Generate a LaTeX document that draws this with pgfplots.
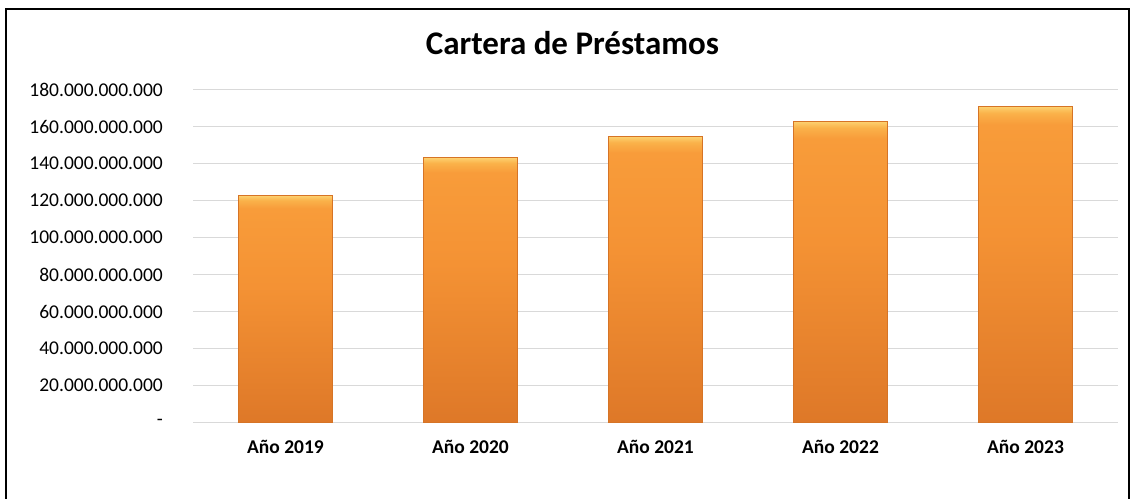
\documentclass[border=0pt]{standalone}
\usepackage{pgfplots}
\pgfplotsset{compat=1.18}
\usepackage{fontspec}
\setmainfont{Carlito}
\definecolor{obot}{RGB}{222,120,40}
\definecolor{omid}{RGB}{244,146,52}
\definecolor{otop}{RGB}{248,156,58}
\definecolor{ohl}{RGB}{253,208,110}
\definecolor{ohl2}{RGB}{250,178,74}
\definecolor{gridc}{RGB}{217,217,217}
\pgfdeclareverticalshading{barshade}{100bp}{color(0bp)=(obot); color(25bp)=(obot); color(55bp)=(omid); color(72.2bp)=(otop); color(74bp)=(ohl2); color(75bp)=(ohl); color(100bp)=(ohl)}
\pgfplotsset{orangebar/.style={ybar, bar shift=0pt, bar width=94pt, draw={rgb,255:red,214;green,116;blue,38}, line width=0.8pt, shade, shading=barshade}}
\begin{document}
\begin{tikzpicture}[x=1pt,y=1pt]
\useasboundingbox (0,0) rectangle (1131,498);
\draw[line width=2pt] (6,-20) -- (6,489) -- (1129,489) -- (1129,-20);
\node[anchor=base, font=\fontsize{33}{36}\selectfont\bfseries] at (572.5,443) {Cartera de Préstamos};
\begin{axis}[
  at={(193pt,75.3pt)}, anchor=south west,
  scale only axis, width=925pt, height=333pt,
  xmin=-0.5, xmax=4.5, ymin=0, ymax=180000000000,
  scaled y ticks=false,
  axis line style={draw=none},
  ymajorgrids, grid style={gridc, line width=1.3pt},
  major tick length=0pt,
  xtick={0,1,2,3,4},
  xticklabels={Año 2019, Año 2020, Año 2021, Año 2022, Año 2023},
  ytick={0,20000000000,40000000000,60000000000,80000000000,100000000000,120000000000,140000000000,160000000000,180000000000},
  yticklabels={-\hspace{10pt},20.000.000.000,40.000.000.000,60.000.000.000,80.000.000.000,100.000.000.000,120.000.000.000,140.000.000.000,160.000.000.000,180.000.000.000},
  yticklabel style={font=\fontsize{19.5}{22}\selectfont, inner sep=0pt, anchor=east, xshift=-30pt},
  xticklabel style={font=\fontsize{19.5}{22}\selectfont\bfseries, inner sep=0pt, anchor=base, yshift=-31pt},
  clip=false,
]
\addplot[orangebar] coordinates {(0,122700000000)};
\addplot[orangebar] coordinates {(1,143200000000)};
\addplot[orangebar] coordinates {(2,154600000000)};
\addplot[orangebar] coordinates {(3,162700000000)};
\addplot[orangebar] coordinates {(4,170800000000)};
\end{axis}
\end{tikzpicture}
\end{document}
